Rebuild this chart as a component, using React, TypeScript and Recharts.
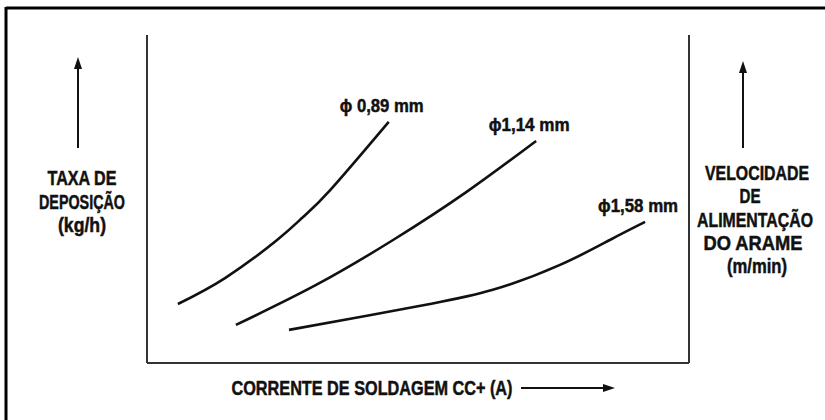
import React from 'react';
import { LineChart, Line, XAxis, YAxis } from 'recharts';

// Welding current (relative units along the x axis) and deposition rate (relative units)
const current089 = [5.7, 14.4, 24.0, 28.8, 33.8, 44.6];
const rate089 = [18.0, 25.9, 37.5, 44.5, 52.7, 73.5];

const current114 = [16.4, 31.2, 45.4, 58.9, 71.8];
const rate114 = [11.6, 23.8, 37.5, 52.1, 67.7];

const current158 = [26.2, 39.3, 52.2, 63.8, 76.2, 85.4, 91.9];
const rate158 = [10.1, 14.0, 18.0, 22.3, 29.9, 37.5, 43.0];

const seriesLabels = ['ϕ 0,89 mm', 'ϕ1,14 mm', 'ϕ1,58 mm'];
const seriesLabelWidths = [84, 81, 80];

const leftTitle = ['TAXA DE', 'DEPOSIÇÃO', '(kg/h)'];
const rightTitle = ['VELOCIDADE', 'DE', 'ALIMENTAÇÃO', 'DO ARAME', '(m/min)'];
const bottomTitle = 'CORRENTE DE SOLDAGEM CC+ (A)';

const zip = (xs: number[], ys: number[]) => xs.map((x, i) => ({ x, y: ys[i] }));
const series = [
  zip(current089, rate089),
  zip(current114, rate114),
  zip(current158, rate158),
];

const FONT = "'Liberation Sans', Arial, sans-serif";

const makeLabel = (text: string, width: number, lastIndex: number) => (props: any) => {
  if (props.index !== lastIndex) return null;
  return (
    <text
      key={text}
      x={props.x - 7}
      y={props.y - 10}
      textAnchor="middle"
      fontFamily={FONT}
      fontWeight="bold"
      fontSize={19}
      fill="#111"
      stroke="#111"
      strokeWidth={0.5}
      textLength={width}
      lengthAdjust="spacingAndGlyphs"
    >
      {text}
    </text>
  );
};

const T = ({ x, y, w, children }: { x: number; y: number; w: number; children: string }) => (
  <text x={x} y={y} textLength={w} lengthAdjust="spacingAndGlyphs">
    {children}
  </text>
);

export default function App() {
  return (
    <div style={{ position: 'absolute', left: 0, top: 0, width: 825, height: 420, background: '#fff' }}>
      <LineChart
        width={825}
        height={420}
        margin={{ top: 35, left: 87, right: 76, bottom: 27 }}
      >
        <XAxis
          type="number"
          dataKey="x"
          domain={[0, 100]}
          tick={false}
          tickLine={false}
          height={30}
          axisLine={{ stroke: '#333', strokeWidth: 2 }}
        />
        <YAxis
          type="number"
          dataKey="y"
          domain={[0, 100]}
          tick={false}
          tickLine={false}
          width={60}
          axisLine={{ stroke: '#333', strokeWidth: 2 }}
        />
        <YAxis
          yAxisId="right"
          orientation="right"
          type="number"
          domain={[0, 100]}
          tick={false}
          tickLine={false}
          width={60}
          axisLine={{ stroke: '#333', strokeWidth: 2 }}
        />
        {series.map((d, i) => (
          <Line
            key={seriesLabels[i]}
            data={d}
            dataKey="y"
            type="natural"
            stroke="#111"
            strokeWidth={2.6}
            dot={false}
            activeDot={false}
            isAnimationActive={false}
            label={makeLabel(seriesLabels[i], seriesLabelWidths[i], d.length - 1)}
          />
        ))}
      </LineChart>
      <svg
        width={825}
        height={420}
        style={{ position: 'absolute', left: 0, top: 0, pointerEvents: 'none' }}
      >
        {/* outer frame */}
        <line x1={6} y1={8} x2={825} y2={8} stroke="#000" strokeWidth={3} />
        <line x1={6} y1={7} x2={6} y2={420} stroke="#000" strokeWidth={3} />

        {/* left arrow */}
        <line x1={78} y1={148} x2={78} y2={66} stroke="#111" strokeWidth={2} />
        <polygon points="78,57 74,69 82,69" fill="#111" />
        {/* right arrow */}
        <line x1={743} y1={148} x2={743} y2={70} stroke="#111" strokeWidth={2} />
        <polygon points="743,61 739,73 747,73" fill="#111" />
        {/* bottom arrow */}
        <line x1={521} y1={388} x2={605} y2={388} stroke="#111" strokeWidth={2} />
        <polygon points="615,388 603,384 603,392" fill="#111" />

        <g fontFamily={FONT} fontWeight="bold" fontSize={21} fill="#111" stroke="#111" strokeWidth={0.5} textAnchor="middle">
          <T x={82} y={185} w={69}>{leftTitle[0]}</T>
          <T x={82} y={209} w={86}>{leftTitle[1]}</T>
          <T x={82} y={232} w={48}>{leftTitle[2]}</T>

          <T x={757} y={180} w={104}>{rightTitle[0]}</T>
          <T x={750} y={203} w={21}>{rightTitle[1]}</T>
          <T x={755} y={227} w={116}>{rightTitle[2]}</T>
          <T x={753} y={250} w={99}>{rightTitle[3]}</T>
          <T x={757} y={273} w={60}>{rightTitle[4]}</T>

          <T x={372} y={395} w={281}>{bottomTitle}</T>
        </g>
      </svg>
    </div>
  );
}
